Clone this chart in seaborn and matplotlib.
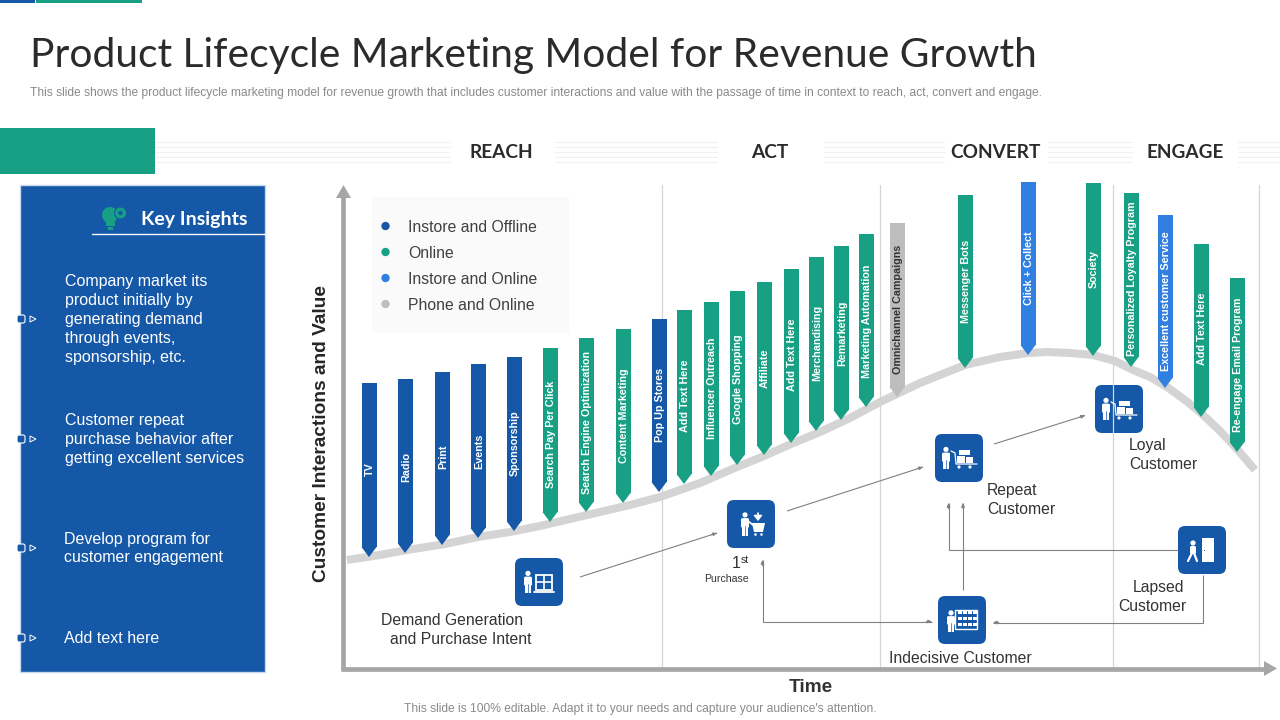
import matplotlib
matplotlib.use("Agg")
import matplotlib.pyplot as plt
import seaborn as sns
import pandas as pd
from matplotlib.patches import Rectangle, FancyBboxPatch, Circle, Polygon

# ---------- data ----------
bar_labels = ["TV", "Radio", "Print", "Events", "Sponsorship", "Search Pay Per Click",
              "Search Engine Optimization", "Content Marketing", "Pop Up Stores", "Add Text Here",
              "Influencer Outreach", "Google Shopping", "Affiliate", "Add Text Here", "Merchandising",
              "Remarketing", "Marketing Automation", "Omnichannel Campaigns", "Messenger Bots",
              "Click + Collect", "Society", "Personalized Loyalty Program", "Excellent customer Service",
              "Add Text Here", "Re-engage Email Program"]
bar_channel = ["Instore and Offline"] * 5 + ["Online"] * 3 + ["Instore and Offline"] + ["Online"] * 8 + \
              ["Phone and Online", "Online", "Instore and Online", "Online", "Online",
               "Instore and Online", "Online", "Online"]
bar_time = [25, 61, 98, 134, 170, 206, 242, 279, 315, 340, 367, 393, 420, 447, 472, 497, 522, 553,
            621, 684, 749, 787, 821, 857, 893]
bar_high = [285, 289, 296, 304, 311, 320, 330, 339, 349, 358, 366, 377, 386, 399, 411, 422, 434, 445,
            473, 486, 485, 475, 453, 424, 390]
bar_low = [111, 115, 123, 130, 137, 146, 156, 165, 176, 184, 192, 203, 213, 225, 237, 248, 261, 271,
           300, 313, 312, 301, 280, 251, 216]
label_mid = [199, 201, 211, 217, 225, 234, 245, 252, 263, 272, 280, 289, 300, 313, 325, 335, 347, 359,
             387, 400, 399, 389, 367, 339, 303]
curve_time = [3, 36, 63, 101, 134, 166, 196, 226, 256, 286, 316, 356, 393, 420, 447, 476, 506, 536, 576,
              621, 656, 684, 703, 726, 749, 771, 789, 806, 823, 841, 857, 876, 893, 911]
curve_value = [108, 113, 118, 124, 131, 136, 142, 149, 156, 163, 171, 185, 201, 212, 224, 236, 250, 266,
               285, 303, 311, 315, 316, 315, 313, 307, 298, 291, 281, 268, 255, 237, 219, 198]
channels = ["Instore and Offline", "Online", "Instore and Online", "Phone and Online"]
stages = ["REACH", "ACT", "CONVERT", "ENGAGE"]
insights = ["Company market its\nproduct initially by\ngenerating demand\nthrough events,\nsponsorship, etc.",
            "Customer repeat\npurchase behavior after\ngetting excellent services",
            "Develop program for\ncustomer engagement",
            "Add text here"]

# ---------- style ----------
BLUE, GREEN, MID, GREY = "#1558A8", "#18A084", "#2F80E0", "#BDBDBD"
colors = dict(zip(channels, [BLUE, GREEN, MID, GREY]))
AXC, LINE, TXT = "#A6A6A6", "#808080", "#333333"
ARIAL = "Liberation Sans"
GOTHIC = "Lato"

sns.set_theme(style="white")
plt.rcParams["font.family"] = [ARIAL, "DejaVu Sans"]
PX = 0.72

fig = plt.figure(figsize=(12.8, 7.2), dpi=100, facecolor="white")
s = fig.add_axes([0, 0, 1, 1], zorder=0)
s.set_xlim(0, 1280); s.set_ylim(720, 0); s.axis("off")
c = fig.add_axes([344 / 1280, (720 - 668) / 720, 914 / 1280, 488 / 720], zorder=1)
c.set_xlim(0, 914); c.set_ylim(0, 488); c.axis("off"); c.patch.set_alpha(0)


def rect(ax, x0, y0, x1, y1, col, **k):
    ax.add_patch(Rectangle((x0, y0), x1 - x0, y1 - y0, fc=col, ec="none", **k))


def txt(ax, x, y, t, px=16, col=TXT, ha="left", va="center", **k):
    k.setdefault("family", ARIAL)
    return ax.text(x, y, t, fontsize=px * PX, color=col, ha=ha, va=va, **k)


# ---------- header ----------
rect(s, 0, 0, 35, 3, BLUE)
rect(s, 36, 0, 142, 3, GREEN)
txt(s, 30, 55, "Product Lifecycle Marketing Model for Revenue Growth", px=40.7, col="#2b2b2b",
    family=GOTHIC, weight="regular")
txt(s, 30, 93, "This slide shows the product lifecycle marketing model for revenue growth that includes "
    "customer interactions and value with the passage of time in context to reach, act, convert and engage.",
    px=12.02, col="#8a8a8a")
rect(s, 0, 128, 155, 174, GREEN)
for y in (142, 147, 152, 157, 162):
    for x0, x1 in ((155, 450), (555, 717), (824, 944), (1048, 1132), (1238, 1280)):
        s.plot([x0, x1], [y, y], color="#F0F0F0", lw=0.8)
for x, t in zip((501, 770, 995.5, 1185), stages):
    txt(s, x, 152.5, t, px=19, col="#2b2b2b", ha="center", family=GOTHIC, weight="bold")

# ---------- insight panel ----------
s.add_patch(Rectangle((20, 185), 245, 487, fc=BLUE, ec="#C9D8EC", lw=1))
txt(s, 141, 220, "Key Insights", px=19.5, col="white", family=GOTHIC, weight="bold")
s.plot([92, 265], [233.5, 233.5], color="white", lw=1)
s.add_patch(Circle((110, 215), 8, fc=GREEN, ec="none"))
s.add_patch(Circle((120.5, 213), 6, fc=GREEN, ec=BLUE, lw=0.8))
s.add_patch(Circle((120.5, 213), 2.2, fc=BLUE, ec="none"))
rect(s, 106, 222, 115, 226, GREEN)
rect(s, 108, 227, 113, 230, GREEN)
for (x, yc), t in zip(((65, 319.5), (65, 439.5), (64, 548.5), (64, 638.5)), insights):
    txt(s, x, yc, t, px=16, col="white", linespacing=1.32)
for yc in (319, 439, 548, 638):
    s.add_patch(FancyBboxPatch((17, yc - 4), 8, 8, boxstyle="round,pad=0,rounding_size=2",
                               fc=BLUE, ec="white", lw=0.8))
    s.add_patch(Polygon([(30, yc - 3), (36, yc), (30, yc + 3)], fc=BLUE, ec="white", lw=0.7))

# ---------- axes ----------
for x in (661.5, 879.5, 1112.5, 1258.5):
    s.plot([x, x], [185, 666], color="#D4D4D4", lw=0.9)
s.plot([343, 343], [196, 670], color=AXC, lw=3.4, solid_capstyle="butt")
s.plot([341, 1266], [668.5, 668.5], color=AXC, lw=3.4, solid_capstyle="butt")
s.add_patch(Polygon([(336, 198), (351, 198), (343.5, 185)], fc=AXC, ec="none"))
s.add_patch(Polygon([(1264, 661), (1264, 676), (1277, 668.5)], fc=AXC, ec="none"))
txt(s, 322, 434, "Customer Interactions and Value", px=19.1, col="#262626", ha="center", rotation=90, weight="bold")
txt(s, 811, 687, "Time", px=19, col="#333333", ha="center", weight="bold")
txt(s, 640, 709, "This slide is 100% editable. Adapt it to your needs and capture your audience's attention.",
    px=12, col="#8a8a8a", ha="center")

# ---------- legend ----------
rect(s, 372, 197, 569, 333, "#FAFAFA")
legend = pd.DataFrame({"x": [385.5] * 4, "y": [226, 252, 278, 304], "channel": channels})
sns.scatterplot(data=legend, x="x", y="y", hue="channel", palette=colors, s=36, linewidth=0, ax=s, legend=False)
s.set_xlim(0, 1280); s.set_ylim(720, 0); s.axis("off")
for y, t in zip(legend["y"], channels):
    txt(s, 408, y + 1.5, t, px=15.8, col="#404040")

# ---------- curve and tagged bars ----------
sns.lineplot(x=curve_time, y=curve_value, sort=False, estimator=None, color="#D4D4D4", lw=5.8, ax=c,
             solid_capstyle="butt", zorder=1)
c.set_xlim(0, 914); c.set_ylim(0, 488); c.axis("off")
BW, TIP = 7.5, 10
for t, hi, lo, ch, lab, mid in zip(bar_time, bar_high, bar_low, bar_channel, bar_labels, label_mid):
    col = colors[ch]
    c.bar(t, hi - lo - TIP, BW * 2, bottom=lo + TIP, color=col, lw=0, zorder=2)
    c.fill([t - BW, t + BW, t], [lo + TIP, lo + TIP, lo], color=col, lw=0, zorder=2)
    c.text(t + 1, mid, lab, rotation=90, ha="center", va="center", fontsize=10.7 * PX, weight="bold",
           family=ARIAL, color="#333333" if ch == "Phone and Online" else "white", zorder=3)


# ---------- icons ----------
def tile(x, y):
    s.add_patch(FancyBboxPatch((x - 24, y - 24), 48, 48, boxstyle="round,pad=0,rounding_size=7",
                               fc=BLUE, ec="none"))


def person(x, y, h=22):
    s.add_patch(Circle((x, y - h / 2 + 2.4), 2.6, fc="white", ec="none"))
    s.add_patch(FancyBboxPatch((x - 4, y - h / 2 + 5.6), 8, h * 0.42, boxstyle="round,pad=0,rounding_size=1.5",
                               fc="white", ec="none"))
    rect(s, x - 3, y, x + 3, y + h / 2, "white")
    s.plot([x, x], [y + 2, y + h / 2], color=BLUE, lw=0.5)


def trolley(x, y):
    person(x - 13, y)
    s.plot([x - 8, x - 4, x - 3, x + 18], [y - 7, y - 5, y + 6, y + 6], color="white", lw=0.9)
    rect(s, x - 2, y - 2, x + 6, y + 5, "white")
    rect(s, x + 6.5, y - 1, x + 14, y + 5, "white")
    rect(s, x, y - 8, x + 11, y - 2.6, "white")
    for dx in (0, 11):
        s.add_patch(Circle((x + dx, y + 9), 1.6, fc="white", ec="none"))


icons = [(539, 582), (751, 524), (959, 458), (1119, 409), (1202, 550), (962, 620)]
for x, y in icons:
    tile(x, y)
# demand generation
x, y = icons[0]
person(x - 11, y)
s.add_patch(Rectangle((x - 3, y - 7), 16, 15, fc="none", ec="white", lw=1.3))
s.plot([x + 5, x + 5], [y - 7, y + 8], color="white", lw=1.2)
s.plot([x - 3, x + 13], [y, y], color="white", lw=1.2)
s.plot([x - 5, x + 15], [y + 9.5, y + 9.5], color="white", lw=1.3)
# first purchase
x, y = icons[1]
person(x - 6, y, 23)
s.plot([x - 3, x + 2], [y - 3, y + 1], color="white", lw=1.2)
s.add_patch(Polygon([(x + 1, y - 1), (x + 14, y - 1), (x + 12, y + 8), (x + 3, y + 8)], fc="white", ec="none"))
for dx in (4.5, 10.5):
    s.add_patch(Circle((x + dx, y + 10.5), 1.3, fc="white", ec="none"))
s.annotate("", xy=(x + 7, y - 3), xytext=(x + 7, y - 11),
           arrowprops=dict(arrowstyle="-|>,head_width=0.2,head_length=0.25", color="white", lw=1.2, shrinkA=0, shrinkB=0))
# repeat, loyal
trolley(*icons[2])
trolley(*icons[3])
# lapsed
x, y = icons[4]
s.add_patch(Circle((x - 9, y - 7), 2.6, fc="white", ec="none"))
s.add_patch(FancyBboxPatch((x - 12, y - 4), 6, 8, boxstyle="round,pad=0,rounding_size=1.5", fc="white", ec="none"))
s.plot([x - 10, x - 14], [y + 3, y + 11], color="white", lw=1.6)
s.plot([x - 8, x - 5], [y + 3, y + 11], color="white", lw=1.6)
rect(s, x, y - 12, x + 12, y + 12, "white")
rect(s, x + 1.5, y - 0.5, x + 3, y + 1, BLUE)
# indecisive
x, y = icons[5]
person(x - 11, y + 1, 21)
s.add_patch(Rectangle((x - 7, y - 10), 22, 19, fc="none", ec="white", lw=1))
for yy in (y - 7, y - 1, y + 5):
    for dx in (-4, 1, 6, 11):
        rect(s, x + dx, yy - 2, x + dx + 3.5, yy + 1, "white")


# ---------- connectors ----------
def arrow(pts):
    xs, ys = zip(*pts)
    s.plot(xs, ys, color=LINE, lw=0.8, solid_capstyle="butt", solid_joinstyle="miter")
    x1, y1 = pts[-1]
    x0, y0 = pts[-2]
    s.annotate("", xy=(x1, y1), xytext=(x1 - (x1 - x0) * 6 / max(abs(x1 - x0), abs(y1 - y0)),
                                        y1 - (y1 - y0) * 6 / max(abs(x1 - x0), abs(y1 - y0))),
               arrowprops=dict(arrowstyle="-|>,head_width=0.09,head_length=0.2", color=LINE, lw=0.6,
                               shrinkA=0, shrinkB=0))


arrow([(580, 577), (717, 533)])
arrow([(787, 511), (923, 467)])
arrow([(994, 444), (1085, 415.5)])
arrow([(1178, 549.5), (948.5, 549.5), (948.5, 503)])
arrow([(963, 590), (963, 503)])
arrow([(1203, 575), (1203, 622.5), (993, 622.5)])
arrow([(762.5, 621.5), (932, 621.5)])
arrow([(762.5, 621.5), (762.5, 560)])

# ---------- node labels ----------
for x, y, t in [(381, 620.5, "Demand Generation"), (390, 639.5, "and Purchase Intent"),
                (987, 490.5, "Repeat"), (987, 509.5, "Customer"),
                (1129, 445.5, "Loyal"), (1129, 464.5, "Customer"),
                (1133, 587.5, "Lapsed"), (1118, 606.5, "Customer"),
                (889, 658.5, "Indecisive Customer")]:
    txt(s, x, y, t, px=15.7)
txt(s, 732, 563, "1", px=16)
txt(s, 741, 560, "st", px=10.5)
txt(s, 704, 578.5, "Purchase", px=10.5)

fig.savefig("out.png", dpi=100, facecolor="white")
